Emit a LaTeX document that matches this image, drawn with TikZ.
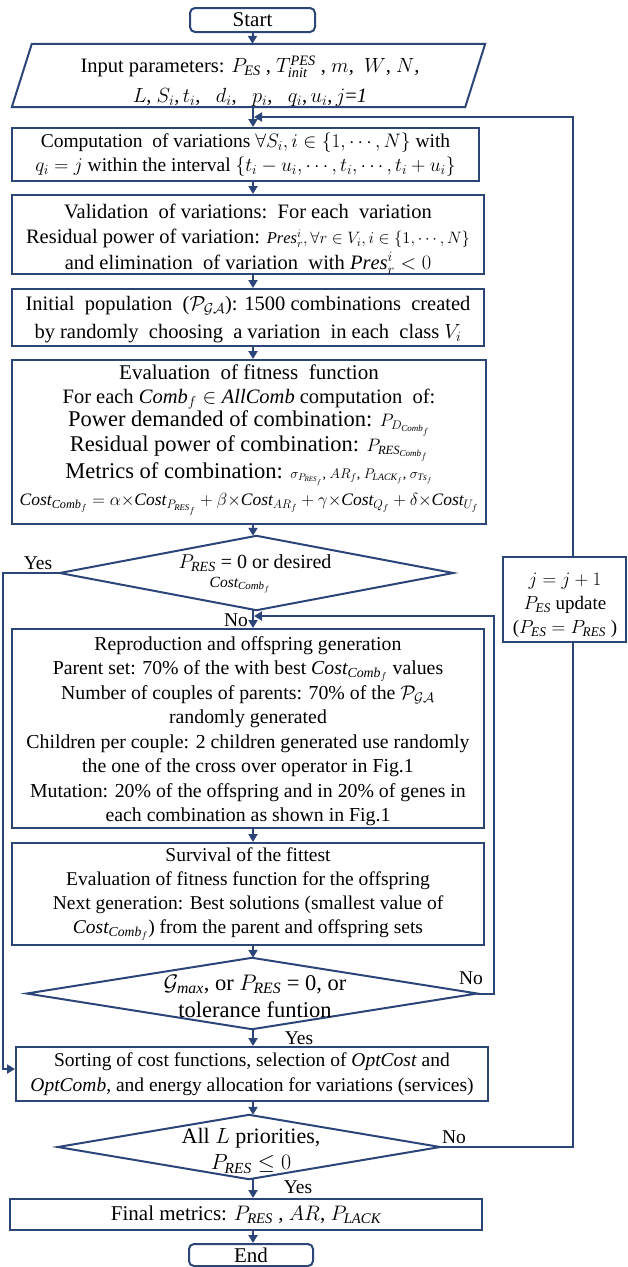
\RequirePackage{fix-cm}
\documentclass[tikz,border=0pt]{standalone}
\usepackage{fontspec}
\setmainfont{Liberation Serif}
\usetikzlibrary{arrows.meta,calc}
\definecolor{navy}{RGB}{44,69,120}
\newcommand\Cst{\mathit{Cost}}
\newcommand\Cmb{\mathit{Comb}}
\newcommand\PRS{P_{\mathit{RES}}}
\newcommand\PES{P_{\mathit{ES}}}
\newcommand\PGA{\mathcal{P}_{\mathcal{G}\mathcal{A}}}
\newcommand\fsz[2]{\fontsize{#1}{#2}\selectfont}
\setlength{\lineskiplimit}{-30pt}
\tikzset{
  box/.style={draw=navy, line width=2pt, inner sep=0pt, align=center},
  txt/.style={inner sep=0pt, align=center},
  conn/.style={draw=navy, line width=2pt},
  arr/.style={conn, -{Triangle[length=8pt,width=9pt]}},
  lbl/.style={inner sep=0pt, font=\fsz{19.5}{22}},
}
\begin{document}
\begin{tikzpicture}[x=1pt,y=-1pt]
\useasboundingbox (0,0) rectangle (628,1267);
% main flow column and routing points of the loops
\coordinate (ax) at (253,0);
\coordinate (rl) at (572.5,117);
\coordinate (nl) at (494,616);
\coordinate (yl) at (3,1069);

% terminals
\node[box, rounded corners=5pt, minimum width=125pt, minimum height=24pt, font=\fsz{21}{24}] (start) at (252.5,20) {Start};
\node[box, rounded corners=5pt, minimum width=124pt, minimum height=22pt, font=\fsz{21}{24}] (stop) at (251,1255) {End};

% input parallelogram
\node[inner sep=0pt, minimum width=453pt, minimum height=63pt] (inp) at (248.5,75.5) {};
\draw[conn] ($(inp.north west)+(10,0)$) -- ($(inp.north east)+(10,0)$) -- ($(inp.south east)+(-10,0)$) -- ($(inp.south west)+(-10,0)$) -- cycle;
\node[txt, font=\fsz{20.5}{30}] (inpt) at (250,81)
  {Input parameters: $\PES$ , $T^{\mathit{PES}}_{\mathit{init}}$ , $m$,\ \ $W$, $N$,\\
   $L$, $S_i$,\,$t_i$,\ \ \ $d_i$,\ \ \ $p_i$,\ \ \ $q_i$,\,$u_i$,\,$j$=\textit{1}};

% processing steps
\node[box, minimum width=467pt, minimum height=53pt, font=\fsz{19.5}{24}] (comp) at (245.5,154.5)
  {Computation\ \ of variations $\forall S_i, i \in \{1,\cdots,N\}$ with\\
   $q_i = j$ within the interval $\{t_i - u_i, \cdots, t_i, \cdots, t_i + u_i\}$};

\node[box, minimum width=472pt, minimum height=79pt] (valid) at (248,234.5) {};
\node[txt, font=\fsz{20.5}{25.5}] (validt) at (248,239)
  {Validation\ \ of variations:\ \ For each\ \ variation\\
   Residual power of variation: {\fsz{16.5}{25.5}$\mathit{Pres}^i_r, \forall r \in V_i, i \in \{1,\cdots,N\}$}\\
   and elimination\ \ of variation\ \ with $\mathit{Pres}^i_r < 0$};

\node[box, minimum width=472pt, minimum height=57pt] (init) at (248,317.5) {};
\node[txt, font=\fsz{20.5}{28}] (initt) at (248,320)
  {Initial\ \ population\ \ ($\PGA$): 1500 combinations\ \ created\\
   by randomly\ \ choosing\ \ a variation\ \ in each\ \ class $V_i$};

\node[box, minimum width=474pt, minimum height=164pt] (eval) at (249,442) {};
\node[txt, font=\fsz{20}{21}] (evalt) at (249,439.5)
  {{\fsz{21}{21}Evaluation\ \ of fitness\ \ function}\\[3pt]
   {\fsz{20.5}{21}For each $\Cmb_f \in \mathit{AllComb}$ computation\ \ of:}\\[2.5pt]
   {\fsz{22.5}{21}Power demanded of combination: {\fsz{18}{21}$P_{D_{\Cmb_f}}$}}\\[4pt]
   {\fsz{22.5}{21}Residual power of combination: {\fsz{18}{21}$P_{\mathit{RES}_{\Cmb_f}}$}}\\[6pt]
   {\fsz{22.5}{21}Metrics of combination: {\fsz{14}{21}$\sigma_{P_{\mathit{RES}_f}}$, $AR_f$, $P_{\mathit{LACK}_f}$, $\sigma_{\mathit{Ts}_f}$}}\\[6pt]
   {\fsz{17.5}{21}$\Cst_{\Cmb_f} = \alpha{\times}\Cst_{P_{\mathit{RES}_f}} + \beta{\times}\Cst_{AR_f} + \gamma{\times}\Cst_{Q_f} + \delta{\times}\Cst_{U_f}$}};

% first decision
\node[inner sep=0pt, minimum width=393pt, minimum height=74pt] (d1) at (256.5,573) {};
\draw[conn] (d1.north) -- (d1.east) -- (d1.south) -- (d1.west) -- cycle;
\node[txt, font=\fsz{20}{22}] (d1t) at (255,563) {$\PRS$ = 0 or desired};
\node[txt, font=\fsz{15.5}{22}] (d1u) at (240,585) {$\Cst_{\Cmb_f}$};

\node[box, minimum width=472pt, minimum height=199pt] (rep) at (248,728.5) {};
\node[txt, font=\fsz{19.8}{24.5}] (rept) at (248,731)
  {Reproduction and offspring generation\\
   Parent set: 70\% of the with best $\Cst_{\Cmb_f}$ values\\
   Number of couples of parents: 70\% of the $\PGA$\\
   randomly generated\\
   Children per couple: 2 children generated use randomly\\
   the one of the cross over operator in Fig.1\\
   Mutation: 20\% of the offspring and in 20\% of genes in\\
   each combination as shown in Fig.1};

\node[box, minimum width=472pt, minimum height=102pt, font=\fsz{19.5}{24}] (surv) at (248,894)
  {Survival of the fittest\\
   Evaluation of fitness function for the offspring\\
   Next generation: Best solutions (smallest value of\\
   $\Cst_{\Cmb_f}$) from the parent and offspring sets};

% generation loop decision
\node[inner sep=0pt, minimum width=450pt, minimum height=71pt] (d2) at (252,993.5) {};
\draw[conn] (d2.north) -- (d2.east) -- (d2.south) -- (d2.west) -- cycle;
\node[txt, font=\fsz{22.5}{27}] (d2t) at (255,996)
  {$\mathcal{G}_{\mathit{max}}$, or $\PRS$ = 0, or\\ tolerance funtion};

\node[box, minimum width=472pt, minimum height=54pt, font=\fsz{19.5}{25}] (sort) at (252,1074)
  {Sorting of cost functions, selection of \textit{OptCost} and\\
   \textit{OptComb}, and energy allocation for variations (services)};

% priority decision
\node[inner sep=0pt, minimum width=382pt, minimum height=64pt] (d3) at (249,1147) {};
\draw[conn] (d3.north) -- (d3.east) -- (d3.south) -- (d3.west) -- cycle;
\node[txt, font=\fsz{22}{26}] (d3t) at (251,1151)
  {All $L$ priorities,\\ $\PRS \le 0$};

\node[box, minimum width=472pt, minimum height=31pt, font=\fsz{21}{24}] (fin) at (246,1214.5)
  {Final metrics: $\PRS$ , $AR$, $P_{\mathit{LACK}}$};

% priority update
\node[box, minimum width=123pt, minimum height=85pt] (jbox) at (564.5,599.5) {};
\node[txt, font=\fsz{19}{24}] (jt) at (565,605)
  {$j = j + 1$\\ $\PES$ update\\ ($\PES = \PRS$ )};

% branch labels
\node[lbl] (y1) at (38,563) {Yes};
\node[lbl] (n1) at (236,620) {No};
\node[lbl] (n2) at (471,978) {No};
\node[lbl] (y2) at (299,1038) {Yes};
\node[lbl] (n3) at (454,1137) {No};
\node[lbl] (y3) at (298,1187) {Yes};

% main flow
\draw[arr] (start.south) -- (start.south |- inp.north);
\draw[arr] (ax |- inp.south) -- (ax |- comp.north);
\draw[arr] (ax |- comp.south) -- (ax |- valid.north);
\draw[arr] (ax |- valid.south) -- (ax |- init.north);
\draw[arr] (ax |- init.south) -- (ax |- eval.north);
\draw[arr] (ax |- eval.south) -- (ax |- d1.north);
\draw[arr] (ax |- d1.south) -- (ax |- rep.north);
\draw[arr] (ax |- rep.south) -- (ax |- surv.north);
\draw[arr] (ax |- surv.south) -- (ax |- d2.north);
\draw[arr] (ax |- d2.south) -- (ax |- sort.north);
\draw[arr] (ax |- sort.south) -- (ax |- d3.north);
\draw[arr] (ax |- d3.south) -- (ax |- fin.north);
\draw[arr] (ax |- fin.south) -- (ax |- stop.north);

% loops and branches
\draw[arr] (jbox.north -| rl) -- (rl) -- ($(ax |- rl)+(1,0)$);
\draw[conn] (d3.east) -- (d3.east -| rl) -- (rl |- jbox.south);
\draw[arr] (d1.west) -- (d1.west -| yl) -- (yl) -- (yl -| sort.west);
\draw[arr] (d2.east) -- (d2.east -| nl) -- (nl) -- ($(ax |- nl)+(1,0)$);
\end{tikzpicture}
\end{document}
